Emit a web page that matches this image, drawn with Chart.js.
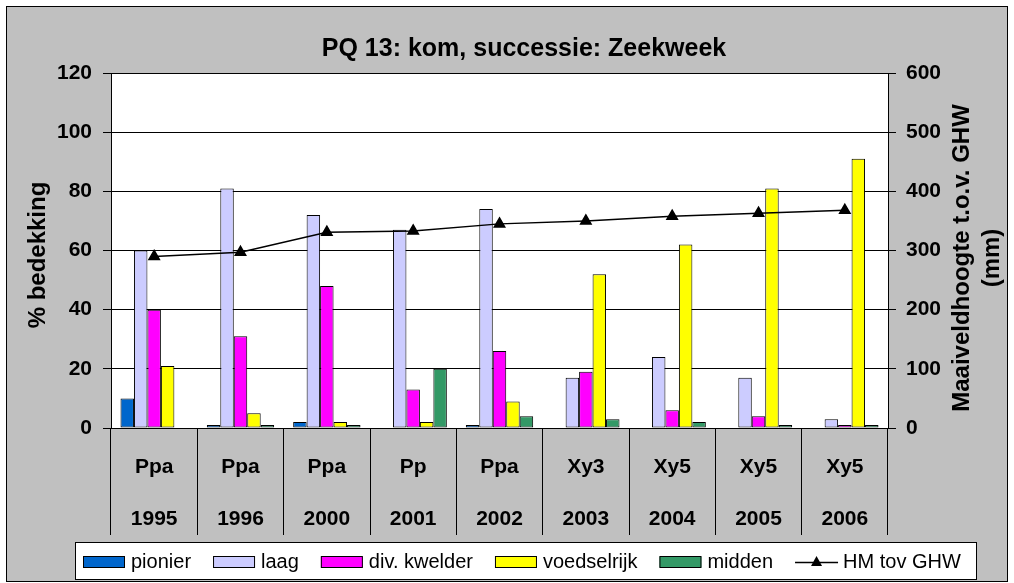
<!DOCTYPE html>
<html>
<head>
<meta charset="utf-8">
<title>PQ 13: kom, successie: Zeekweek</title>
<script src="https://cdn.jsdelivr.net/npm/chart.js@4/dist/chart.umd.min.js"></script>
<style>
  html, body { margin: 0; padding: 0; background: #fff; }
  canvas { display: block; }
</style>
</head>
<body>
<canvas id="pqChart" width="1014" height="583"></canvas>
<script>
// Chart data
const vegTypes = ['Ppa', 'Ppa', 'Ppa', 'Pp', 'Ppa', 'Xy3', 'Xy5', 'Xy5', 'Xy5'];
const years = ['1995', '1996', '2000', '2001', '2002', '2003', '2004', '2005', '2006'];

const pionier = [10, 1, 2, 0, 1, 0, 0, 0, 0];
const laag = [60, 81, 72, 67, 74, 17, 24, 17, 3];
const divKwelder = [40, 31, 48, 13, 26, 19, 6, 4, 1];
const voedselrijk = [21, 5, 2, 2, 9, 52, 62, 81, 91];
const midden = [0, 1, 1, 20, 4, 3, 2, 1, 1];
const hmTovGhw = [290, 297, 331, 333, 345, 350, 358, 363, 368];

const leftTicks = [0, 20, 40, 60, 80, 100, 120];
const rightTicks = [0, 100, 200, 300, 400, 500, 600];

const FONT = 'Arial, "Liberation Sans", sans-serif';

document.addEventListener('DOMContentLoaded', () => {
  Chart.defaults.font.family = FONT;
  Chart.defaults.color = '#000';

  const labels = vegTypes.map((v, i) => [v, years[i]]);

  const barSet = (label, data, color) => ({
    type: 'bar',
    label: label,
    data: data,
    backgroundColor: color,
    borderColor: '#000',
    borderWidth: 1,
    borderSkipped: false,
    yAxisID: 'y',
    order: 1,
    categoryPercentage: 0.78,
    barPercentage: 1
  });

  // Backgrounds: gray chart box, white plot area
  const backgroundPlugin = {
    id: 'background',
    beforeDraw(chart) {
      const { ctx, chartArea } = chart;
      ctx.save();
      ctx.fillStyle = '#fff';
      ctx.fillRect(0, 0, chart.width, chart.height);
      ctx.fillStyle = '#c0c0c0';
      ctx.fillRect(6, 6, 1001, 575);
      ctx.strokeStyle = '#000';
      ctx.lineWidth = 1;
      ctx.strokeRect(6.5, 6.5, 1001, 575);
      ctx.fillStyle = '#fff';
      ctx.fillRect(chartArea.left, chartArea.top, chartArea.right - chartArea.left, chartArea.bottom - chartArea.top);
      ctx.restore();
    }
  };

  // Title, axis titles and legend
  const textPlugin = {
    id: 'texts',
    afterDraw(chart) {
      const { ctx } = chart;
      ctx.save();
      ctx.fillStyle = '#000';
      ctx.textAlign = 'center';
      ctx.textBaseline = 'middle';

      ctx.font = 'bold 25px ' + FONT;
      ctx.fillText('PQ 13: kom, successie: Zeekweek', 524, 49);

      ctx.font = 'bold 24px ' + FONT;
      const rotated = (text, x, y) => {
        ctx.save();
        ctx.translate(x, y);
        ctx.rotate(-Math.PI / 2);
        ctx.fillText(text, 0, 0);
        ctx.restore();
      };
      rotated('% bedekking', 38, 255);
      rotated('Maaiveldhoogte t.o.v. GHW', 962, 258);
      rotated('(mm)', 992, 258);

      // Legend box
      ctx.fillStyle = '#fff';
      ctx.fillRect(75, 542, 902, 37);
      ctx.strokeStyle = '#000';
      ctx.lineWidth = 1;
      ctx.strokeRect(75.5, 542.5, 901, 37);

      ctx.font = '20px ' + FONT;
      ctx.textAlign = 'left';
      const cy = 562;
      let x = 83;
      chart.data.datasets.forEach(ds => {
        if (ds.type === 'bar') {
          ctx.fillStyle = ds.backgroundColor;
          ctx.fillRect(x, cy - 5.5, 42, 11);
          ctx.strokeStyle = '#000';
          ctx.strokeRect(x + 0.5, cy - 5.5, 41, 11);
        } else {
          ctx.strokeStyle = '#000';
          ctx.lineWidth = 1.5;
          ctx.beginPath();
          ctx.moveTo(x, cy + 0.5);
          ctx.lineTo(x + 43, cy + 0.5);
          ctx.stroke();
          ctx.lineWidth = 1;
          ctx.fillStyle = '#000';
          ctx.beginPath();
          ctx.moveTo(x + 21.5, cy - 6);
          ctx.lineTo(x + 27, cy + 4);
          ctx.lineTo(x + 16, cy + 4);
          ctx.closePath();
          ctx.fill();
        }
        ctx.fillStyle = '#000';
        ctx.fillText(ds.label, x + 48, cy);
        x += 48 + ctx.measureText(ds.label).width + 22;
      });
      ctx.restore();
    }
  };

  new Chart(document.getElementById('pqChart'), {
    data: {
      labels: labels,
      datasets: [
        barSet('pionier', pionier, '#0066cc'),
        barSet('laag', laag, '#ccccff'),
        barSet('div. kwelder', divKwelder, '#ff00ff'),
        barSet('voedselrijk', voedselrijk, '#ffff00'),
        barSet('midden', midden, '#339966'),
        {
          type: 'line',
          label: 'HM tov GHW',
          data: hmTovGhw,
          yAxisID: 'y2',
          order: 0,
          borderColor: '#000',
          borderWidth: 1.5,
          pointStyle: 'triangle',
          pointRadius: 6,
          pointBackgroundColor: '#000',
          pointBorderColor: '#000',
          tension: 0
        }
      ]
    },
    options: {
      responsive: false,
      animation: false,
      devicePixelRatio: 1,
      layout: { padding: { left: 0, right: 0, top: 73, bottom: 0 } },
      plugins: {
        legend: { display: false },
        title: { display: false },
        tooltip: { enabled: false }
      },
      scales: {
        x: {
          position: 'bottom',
          offset: true,
          afterFit: scale => { scale.height = 155; },
          grid: {
            offset: true,
            drawOnChartArea: false,
            color: '#000',
            tickLength: 107
          },
          border: { display: true, color: '#000' },
          ticks: {
            font: { size: 21, weight: 'bold', lineHeight: 2.48 },
            padding: -94,
            maxRotation: 0,
            autoSkip: false
          }
        },
        y: {
          position: 'left',
          min: 0,
          max: 120,
          afterFit: scale => { scale.width = 111; },
          afterBuildTicks: scale => { scale.ticks = leftTicks.map(v => ({ value: v })); },
          grid: { color: '#000', tickLength: 8 },
          border: { display: true, color: '#000' },
          ticks: { font: { size: 21, weight: 'bold' }, padding: 11 }
        },
        y2: {
          position: 'right',
          min: 0,
          max: 600,
          afterFit: scale => { scale.width = 126; },
          afterBuildTicks: scale => { scale.ticks = rightTicks.map(v => ({ value: v })); },
          grid: { drawOnChartArea: false, color: '#000', tickLength: 8 },
          border: { display: true, color: '#000' },
          ticks: { font: { size: 21, weight: 'bold' }, padding: 10 }
        }
      }
    },
    plugins: [backgroundPlugin, textPlugin]
  });
});
</script>
</body>
</html>
